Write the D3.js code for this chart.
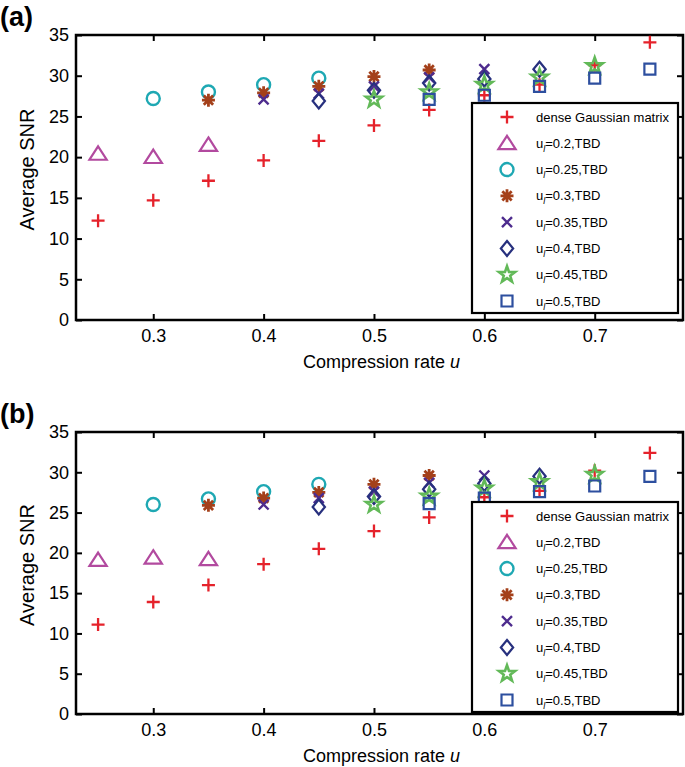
<!DOCTYPE html>
<html>
<head>
<meta charset="utf-8">
<script src="https://cdn.jsdelivr.net/npm/d3@7"></script>
<style>
html,body{margin:0;padding:0;background:#fff;}
svg{display:block;font-family:"Liberation Sans",Arial,Helvetica,sans-serif;}
</style>
</head>
<body>
<svg id="chart" width="685" height="767"></svg>
<script>
// ---------- data ----------
const xTicks = [0.3, 0.4, 0.5, 0.6, 0.7];
const yTicks = [0, 5, 10, 15, 20, 25, 30, 35];
const seriesLabels = ["dense Gaussian matrix", "0.2", "0.25", "0.3", "0.35", "0.4", "0.45", "0.5"];

const uDense = [0.25, 0.30, 0.35, 0.40, 0.45, 0.50, 0.55, 0.60, 0.65, 0.70, 0.75];
const uF20 = [0.25, 0.30, 0.35];
const uF25 = [0.30, 0.35, 0.40, 0.45];
const uF30 = [0.35, 0.40, 0.45, 0.50, 0.55];
const uF35 = [0.40, 0.45, 0.50, 0.55, 0.60];
const uF40 = [0.45, 0.50, 0.55, 0.60, 0.65];
const uF45 = [0.50, 0.55, 0.60, 0.65, 0.70];
const uF50 = [0.55, 0.60, 0.65, 0.70, 0.75];

// panel (a)
const snrA_dense = [12.2, 14.7, 17.1, 19.6, 22.0, 23.9, 25.8, 27.6, 28.9, 31.3, 34.1];
const snrA_f20 = [20.4, 20.0, 21.5];
const snrA_f25 = [27.2, 28.0, 28.9, 29.7];
const snrA_f30 = [27.0, 27.9, 28.7, 29.9, 30.7];
const snrA_f35 = [27.1, 27.8, 28.7, 29.8, 30.8];
const snrA_f40 = [26.9, 28.2, 29.1, 29.6, 30.8];
const snrA_f45 = [27.1, 28.0, 28.9, 29.8, 31.2];
const snrA_f50 = [27.1, 27.6, 28.7, 29.7, 30.8];

// panel (b)
const snrB_dense = [11.1, 13.9, 16.0, 18.6, 20.5, 22.7, 24.4, 26.9, 27.7, 30.2, 32.4];
const snrB_f20 = [19.1, 19.4, 19.2];
const snrB_f25 = [26.0, 26.7, 27.6, 28.5];
const snrB_f30 = [25.9, 26.8, 27.5, 28.5, 29.6];
const snrB_f35 = [26.0, 26.8, 27.6, 28.7, 29.6];
const snrB_f40 = [25.7, 27.0, 27.9, 28.6, 29.5];
const snrB_f45 = [26.0, 27.0, 28.0, 28.8, 29.7];
const snrB_f50 = [26.1, 26.8, 27.6, 28.3, 29.5];

// ---------- custom marker shapes (size = radius) ----------
const symPlus = {draw(c, r){ c.moveTo(-r,0); c.lineTo(r,0); c.moveTo(0,-r); c.lineTo(0,r); }};
const symX = {draw(c, r){ c.moveTo(-r,-r); c.lineTo(r,r); c.moveTo(-r,r); c.lineTo(r,-r); }};
const symAst = {draw(c, r){ const d = r*0.72;
  c.moveTo(-r,0); c.lineTo(r,0); c.moveTo(0,-r); c.lineTo(0,r);
  c.moveTo(-d,-d); c.lineTo(d,d); c.moveTo(-d,d); c.lineTo(d,-d); }};
const symTri = {draw(c, r){ c.moveTo(0,-r); c.lineTo(r*1.15,r*0.78); c.lineTo(-r*1.15,r*0.78); c.closePath(); }};
const symCirc = {draw(c, r){ c.moveTo(r,0); c.arc(0,0,r,0,2*Math.PI); }};
const symDiam = {draw(c, r){ c.moveTo(0,-r); c.lineTo(r*0.82,0); c.lineTo(0,r); c.lineTo(-r*0.82,0); c.closePath(); }};
const symStar = {draw(c, r){ const ri = r*0.4;
  for(let i=0;i<10;i++){ const a = -Math.PI/2 + i*Math.PI/5; const rr = i%2===0 ? r : ri;
    const x = rr*Math.cos(a), y = rr*Math.sin(a); if(i===0) c.moveTo(x,y); else c.lineTo(x,y); }
  c.closePath(); }};
const symSq = {draw(c, r){ c.rect(-r,-r,2*r,2*r); }};

const styles = [
  {type: symPlus, r: 6.5, color: "#e5222b", w: 2.3},
  {type: symTri,  r: 7.5, color: "#b24a9f", w: 2.2},
  {type: symCirc, r: 6.5, color: "#1ea8b3", w: 2.4},
  {type: symAst,  r: 6.5, color: "#a4401a", w: 2.8},
  {type: symX,    r: 5,   color: "#4e2c8e", w: 2.4},
  {type: symDiam, r: 7.5, color: "#27307e", w: 2.2},
  {type: symStar, r: 8.5, color: "#62b958", w: 2.6},
  {type: symSq,   r: 5.5, color: "#2d4f9f", w: 2.2}
];

const panels = [
  {label: "(a)", top: 35, bottom: 320, legendTop: 103, legendBottom: 313,
   xs: [uDense, uF20, uF25, uF30, uF35, uF40, uF45, uF50],
   ys: [snrA_dense, snrA_f20, snrA_f25, snrA_f30, snrA_f35, snrA_f40, snrA_f45, snrA_f50]},
  {label: "(b)", top: 432, bottom: 714, legendTop: 502, legendBottom: 712,
   xs: [uDense, uF20, uF25, uF30, uF35, uF40, uF45, uF50],
   ys: [snrB_dense, snrB_f20, snrB_f25, snrB_f30, snrB_f35, snrB_f40, snrB_f45, snrB_f50]}
];

const svg = d3.select("#chart");
const left = 76, right = 683;

panels.forEach(p => {
  const x = d3.scaleLinear().domain([0.23, 0.78]).range([left, right]);
  const y = d3.scaleLinear().domain([0, 35]).range([p.bottom, p.top]);
  const g = svg.append("g");

  // panel label
  g.append("text").attr("x", 0).attr("y", p.top - 9)
    .attr("font-size", 27).attr("font-weight", "bold").text(p.label);

  // axes
  const fmt = d3.format(".1f");
  g.append("g").attr("transform", `translate(0,${p.bottom})`)
    .call(d3.axisBottom(x).tickValues(xTicks).tickFormat(fmt).tickSizeInner(-6).tickSizeOuter(0).tickPadding(9))
    .call(a => a.select(".domain").remove());
  g.append("g").attr("transform", `translate(0,${p.top})`)
    .call(d3.axisTop(x).tickValues(xTicks).tickFormat("").tickSizeInner(-6).tickSizeOuter(0))
    .call(a => a.select(".domain").remove());
  g.append("g").attr("transform", `translate(${left},0)`)
    .call(d3.axisLeft(y).tickValues(yTicks).tickSizeInner(-6).tickSizeOuter(0).tickPadding(7))
    .call(a => a.select(".domain").remove());
  g.append("g").attr("transform", `translate(${right},0)`)
    .call(d3.axisRight(y).tickValues(yTicks).tickFormat("").tickSizeInner(-6).tickSizeOuter(0))
    .call(a => a.select(".domain").remove());
  g.selectAll(".tick line").attr("stroke", "#000").attr("stroke-width", 2);
  g.selectAll(".tick text").attr("font-size", 18).attr("fill", "#000")
    .attr("font-family", "Liberation Sans, Arial, sans-serif");

  // frame
  g.append("rect").attr("x", left).attr("y", p.top)
    .attr("width", right - left).attr("height", p.bottom - p.top)
    .attr("fill", "none").attr("stroke", "#000").attr("stroke-width", 2.5);

  // axis titles
  const xt = g.append("text").attr("x", (left + right) / 2 + 2).attr("y", p.bottom + 48)
    .attr("text-anchor", "middle").attr("font-size", 18);
  xt.append("tspan").text("Compression rate ");
  xt.append("tspan").attr("font-style", "italic").text("u");
  g.append("text").attr("transform", `translate(34,${(p.top + p.bottom) / 2 - 8}) rotate(-90)`)
    .attr("text-anchor", "middle").attr("font-size", 20).text("Average SNR");

  // markers
  p.xs.forEach((xs, si) => {
    const st = styles[si];
    const sym = d3.symbol().type(st.type).size(st.r);
    g.append("g").selectAll("path").data(xs.map((u, i) => [u, p.ys[si][i]])).join("path")
      .attr("transform", d => `translate(${x(d[0])},${y(d[1])})`)
      .attr("d", sym)
      .attr("fill", "none").attr("stroke", st.color).attr("stroke-width", st.w);
  });

  // legend
  const lg = g.append("g");
  lg.append("rect").attr("x", 472).attr("y", p.legendTop)
    .attr("width", 206).attr("height", p.legendBottom - p.legendTop)
    .attr("fill", "#fff").attr("stroke", "#000").attr("stroke-width", 2.2);
  const step = (p.legendBottom - p.legendTop - 26) / 7;
  seriesLabels.forEach((lab, i) => {
    const cy = p.legendTop + 14 + i * step;
    const st = styles[i];
    lg.append("path").attr("transform", `translate(507,${cy})`)
      .attr("d", d3.symbol().type(st.type).size(st.r)())
      .attr("fill", "none").attr("stroke", st.color).attr("stroke-width", st.w);
    const t = lg.append("text").attr("x", 536).attr("y", cy + 4.5).attr("font-size", 13);
    if (i === 0) {
      t.text(lab);
    } else {
      t.append("tspan").text("u");
      t.append("tspan").attr("font-size", 9).attr("font-style", "italic").attr("dy", 4).text("l");
      t.append("tspan").attr("dy", -4).text("=" + lab + ",TBD");
    }
  });
});
</script>
</body>
</html>
